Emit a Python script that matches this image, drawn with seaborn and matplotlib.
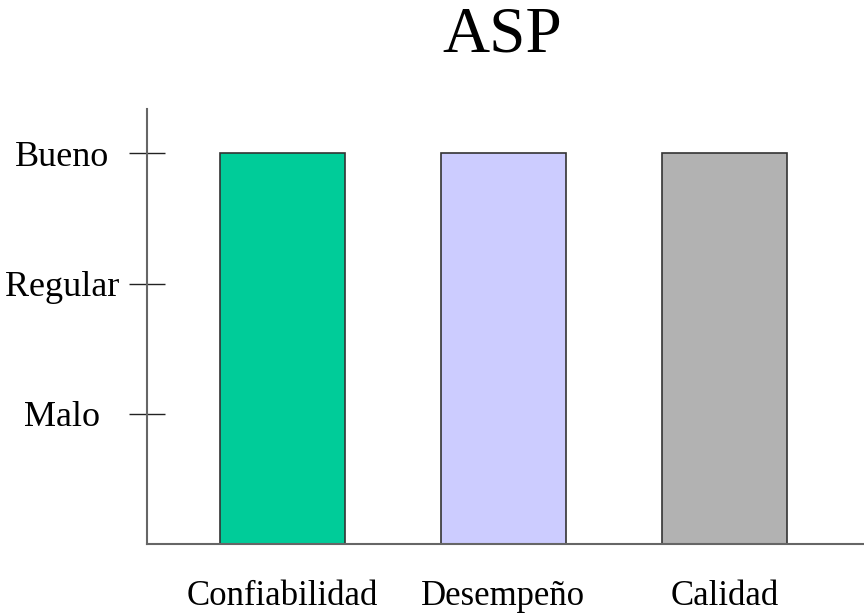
import matplotlib
matplotlib.use("Agg")
import matplotlib.pyplot as plt
import seaborn as sns
import pandas as pd

categories = ["Confiabilidad", "Desempeño", "Calidad"]
values = [3, 3, 3]
level_values = [1, 2, 3]
level_labels = ["Malo", "Regular", "Bueno"]
bar_colors = ["#00CC99", "#CCCCFF", "#B2B2B2"]
title = "ASP"

sns.set_style("white")
plt.rcParams["font.family"] = ["Liberation Serif", "DejaVu Serif"]
plt.rcParams["text.color"] = "black"
plt.rcParams["xtick.color"] = "black"
plt.rcParams["ytick.color"] = "black"

df = pd.DataFrame({"cat": categories, "val": values})

fig = plt.figure(figsize=(8.64, 6.15), dpi=100)
ax = fig.add_axes([147 / 864, 71 / 615, 1 - 147 / 864, (544 - 109) / 615])

sns.barplot(data=df, x="cat", y="val", hue="cat", palette=bar_colors,
            width=0.565, edgecolor="#333333", linewidth=1.2, legend=False, ax=ax,
            saturation=1)

ax.set_xlim(-0.613, 2.632)
ax.set_ylim(0, 3.34)
ax.set_xlabel("")
ax.set_ylabel("")

ax.set_yticks(level_values)
ax.set_yticklabels(level_labels, fontsize=26, ha="center", color="black")
ax.tick_params(axis="y", left=True, direction="inout", length=26.6, width=1,
               color="#222222", labelcolor="black", pad=48)
ax.tick_params(axis="x", bottom=False, length=0, labelsize=25, labelcolor="black",
               pad=26)

for side in ["top", "right"]:
    ax.spines[side].set_visible(False)
for side in ["left", "bottom"]:
    ax.spines[side].set_color("#666666")
    ax.spines[side].set_linewidth(1.5)

fig.text(502 / 864, 1 - 36 / 615, title, fontsize=47, ha="center", va="center",
         color="black")

fig.savefig("out.png", dpi=100, facecolor="white")
